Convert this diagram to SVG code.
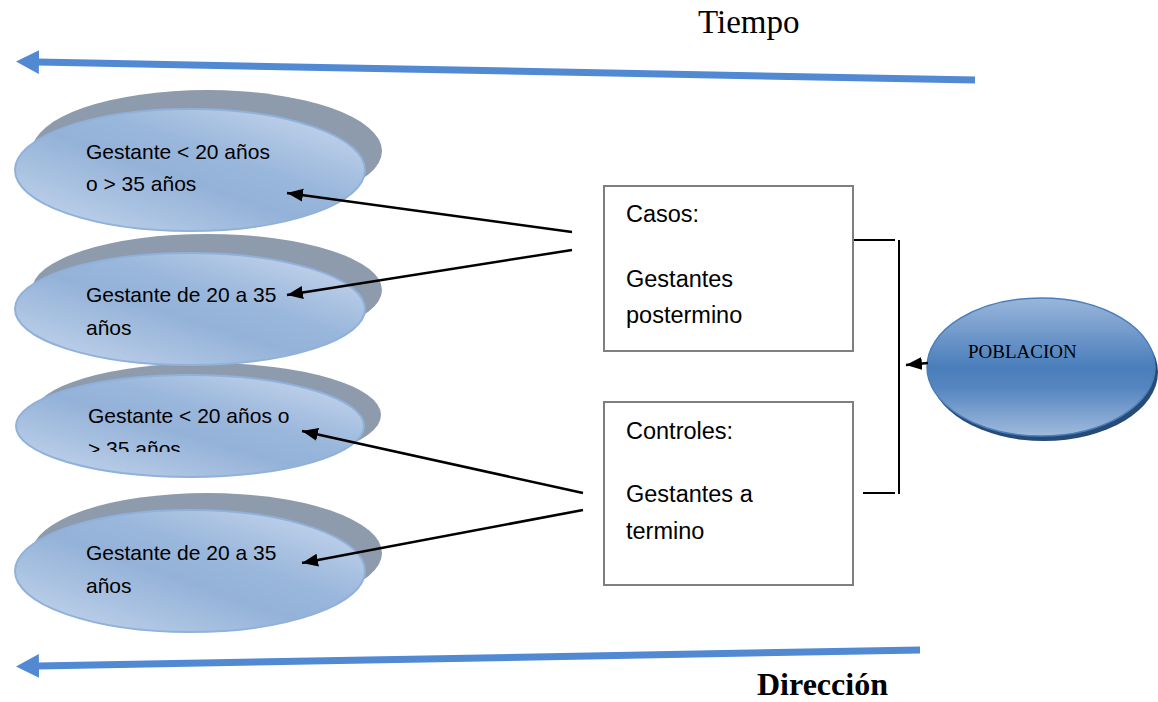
<svg xmlns="http://www.w3.org/2000/svg" width="1158" height="702" viewBox="0 0 1158 702">
<defs>
<style>
.shadow{fill:#8e9bad;}
.front{fill:url(#gFront);stroke:#8fb1db;stroke-width:2;}
.etxt{font-family:"Liberation Sans",Arial,sans-serif;font-size:21px;fill:#000;}
.box{fill:#fff;stroke:#7f7f7f;stroke-width:2;}
.btxt{font-family:"Liberation Sans",Arial,sans-serif;font-size:23.5px;fill:#000;}
.conn{stroke:#000;stroke-width:2.5;fill:none;}
.brk{stroke:#000;stroke-width:2;fill:none;}
.blue{stroke:#5189d3;stroke-width:7;fill:none;}
</style>
<linearGradient id="gFront" x1="0" y1="1" x2="1" y2="0">
<stop offset="0" stop-color="#c8d8ee"/>
<stop offset="0.45" stop-color="#94b2d8"/>
<stop offset="0.6" stop-color="#99b6db"/>
<stop offset="1" stop-color="#cddbef"/>
</linearGradient>
<linearGradient id="gPob" x1="0" y1="0" x2="0" y2="1">
<stop offset="0" stop-color="#9ab6db"/>
<stop offset="0.5" stop-color="#4a7ebb"/>
<stop offset="0.65" stop-color="#5585c0"/>
<stop offset="1" stop-color="#a0bbdd"/>
</linearGradient>
<marker id="ah" markerUnits="userSpaceOnUse" markerWidth="18" markerHeight="14" refX="16" refY="6.5" orient="auto">
<path d="M0,0 L16,6.5 L0,13 z" fill="#000"/>
</marker>
<marker id="bh" markerUnits="userSpaceOnUse" markerWidth="26" markerHeight="26" refX="1" refY="12" orient="auto">
<path d="M0,0 L23,12 L0,24 z" fill="#5189d3"/>
</marker>
<clipPath id="clip3"><rect x="0" y="380" width="400" height="72"/></clipPath>
</defs>

<g id="time-arrows">
<line class="blue" x1="975" y1="80" x2="38" y2="62" marker-end="url(#bh)"/>
<line class="blue" x1="920" y1="650" x2="38" y2="666" marker-end="url(#bh)"/>
</g>

<text x="698" y="33" font-family="'Liberation Serif','Times New Roman',serif" font-size="33" fill="#000">Tiempo</text>
<text x="757" y="695" font-family="'Liberation Serif','Times New Roman',serif" font-size="32" font-weight="bold" fill="#000">Dirección</text>

<g id="shadows">
<ellipse class="shadow" cx="207" cy="151" rx="175" ry="61"/>
<ellipse class="shadow" cx="207" cy="290" rx="175" ry="56"/>
<ellipse class="shadow" cx="207" cy="415" rx="174" ry="52"/>
<ellipse class="shadow" cx="207" cy="553" rx="175" ry="60"/>
</g>

<g id="e1">
<ellipse class="front" cx="190" cy="170" rx="175" ry="61"/>
<text class="etxt" x="86" y="159">Gestante &lt; 20 años</text>
<text class="etxt" x="86" y="191">o &gt; 35 años</text>
</g>
<g id="e2">
<ellipse class="front" cx="190" cy="309" rx="175" ry="56"/>
<text class="etxt" x="86" y="302">Gestante de 20 a 35</text>
<text class="etxt" x="86" y="335">años</text>
</g>
<g id="e3">
<ellipse class="front" cx="190" cy="426" rx="174" ry="51"/>
<text class="etxt" x="88" y="423">Gestante &lt; 20 años o</text>
<text class="etxt" x="88" y="456" clip-path="url(#clip3)">&gt; 35 años</text>
</g>
<g id="e4">
<ellipse class="front" cx="190" cy="571" rx="175" ry="61"/>
<text class="etxt" x="86" y="560">Gestante de 20 a 35</text>
<text class="etxt" x="86" y="593">años</text>
</g>

<g id="casos">
<rect class="box" x="604" y="186" width="249" height="165"/>
<text class="btxt" x="626" y="222">Casos:</text>
<text class="btxt" x="626" y="287">Gestantes</text>
<text class="btxt" x="626" y="323">postermino</text>
</g>
<g id="controles">
<rect class="box" x="604" y="402" width="249" height="183"/>
<text class="btxt" x="626" y="439">Controles:</text>
<text class="btxt" x="626" y="502">Gestantes a</text>
<text class="btxt" x="626" y="539">termino</text>
</g>

<g id="poblacion">
<ellipse cx="1044" cy="372" rx="114" ry="69" fill="#274b77"/>
<ellipse cx="1041" cy="367" rx="114" ry="69" fill="url(#gPob)" stroke="#4a7ebb" stroke-width="1.5"/>
<text x="968" y="358" font-family="'Liberation Serif','Times New Roman',serif" font-size="19" fill="#000">POBLACION</text>
</g>

<g id="connectors">
<line class="conn" x1="572" y1="232" x2="287" y2="193" marker-end="url(#ah)"/>
<line class="conn" x1="572" y1="250" x2="287" y2="295" marker-end="url(#ah)"/>
<line class="conn" x1="583" y1="493" x2="302" y2="431" marker-end="url(#ah)"/>
<line class="conn" x1="583" y1="510" x2="302" y2="563" marker-end="url(#ah)"/>
<polyline class="brk" points="854,240 895,240"/>
<line class="brk" x1="899" y1="240" x2="899" y2="494"/>
<polyline class="brk" points="863,493 895,493"/>
<line class="conn" x1="928" y1="363" x2="906" y2="365" marker-end="url(#ah)"/>
</g>
</svg>
